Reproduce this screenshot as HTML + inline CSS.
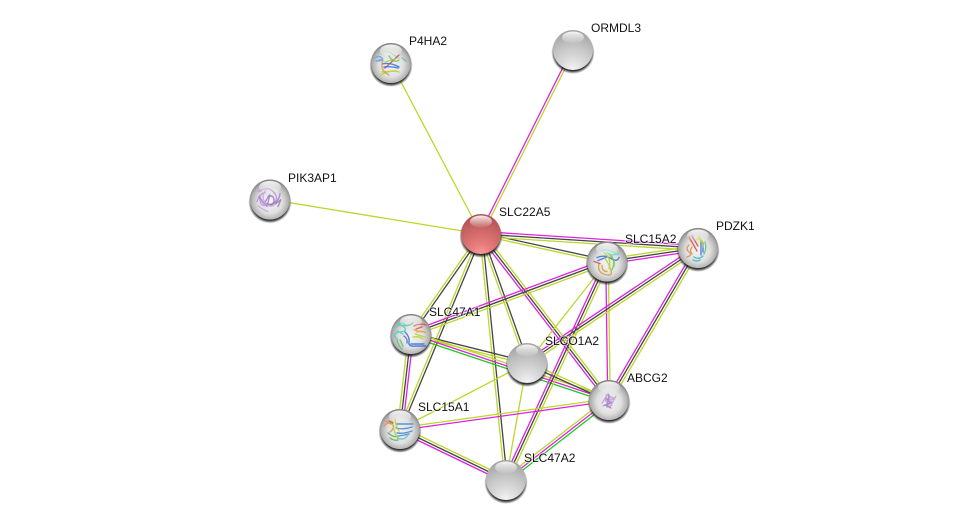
<!DOCTYPE html>
<html>
<head>
<meta charset="utf-8">
<style>
html,body{margin:0;padding:0;background:#fff;width:975px;height:525px;overflow:hidden}
svg{display:block}
text{font-family:"Liberation Sans",sans-serif;font-size:12px;fill:#111;stroke:rgba(255,255,255,.55);stroke-width:2px;paint-order:stroke;}
</style>
</head>
<body>
<svg id="s" xmlns="http://www.w3.org/2000/svg" width="975" height="525" viewBox="0 0 975 525">
<defs>
<radialGradient id="g" cx="50%" cy="55%" r="55%">
<stop offset="0" stop-color="#f4f4f4"/><stop offset=".55" stop-color="#e0e0e0"/><stop offset=".82" stop-color="#b4b4b4"/><stop offset="1" stop-color="#7c7c7c"/>
</radialGradient>
<radialGradient id="g2" cx="50%" cy="100%" r="105%">
<stop offset="0" stop-color="#f6f6f6"/><stop offset=".2" stop-color="#e2e2e2"/><stop offset=".6" stop-color="#c2c2c2"/><stop offset="1" stop-color="#9c9c9c"/>
</radialGradient>
<radialGradient id="r2" cx="50%" cy="100%" r="105%">
<stop offset="0" stop-color="#f79a9a"/><stop offset=".25" stop-color="#e87c7c"/><stop offset=".65" stop-color="#c86262"/><stop offset="1" stop-color="#a84c4c"/>
</radialGradient>
<linearGradient id="h" x1="0" y1="0" x2="0" y2="1">
<stop offset="0" stop-color="#fff" stop-opacity=".9"/><stop offset="1" stop-color="#fff" stop-opacity=".05"/>
</linearGradient>
<radialGradient id="sh" cx="50%" cy="50%" r="50%">
<stop offset=".86" stop-color="#111" stop-opacity=".85"/><stop offset="1" stop-color="#222" stop-opacity="0"/>
</radialGradient>
<filter id="b" x="-20%" y="-20%" width="140%" height="140%"><feGaussianBlur stdDeviation="0.35"/></filter>
</defs>
<g id="edges" fill="none" stroke-width="1.3"></g>
<g id="nodes"></g>
<g id="labels">
<text x="499" y="216">SLC22A5</text>
<text x="409" y="45">P4HA2</text>
<text x="591" y="32">ORMDL3</text>
<text x="288" y="182">PIK3AP1</text>
<text x="625" y="243">SLC15A2</text>
<text x="716" y="230">PDZK1</text>
<text x="429" y="316">SLC47A1</text>
<text x="545" y="345">SLCO1A2</text>
<text x="627" y="382">ABCG2</text>
<text x="418" y="411">SLC15A1</text>
<text x="524" y="462">SLC47A2</text>
</g>
</svg>
<script>
var N={hub:[481,234],p4:[391,63],or:[573,50],pi:[270,199.5],a2:[607,261.5],pd:[698,248],s1:[411,334],co:[527,363],ab:[609,400],c1:[400,429],s2:[506,480]};
var C={y:'#bdd62a',m:'#e020e0',k:'#444',g:'#1fc81f'};
var E=[['hub','p4','y'],['hub','or','my'],['hub','pi','y'],['hub','a2','ky'],['hub','pd','mky'],
['hub','s1','ky'],['hub','c1','ky'],['hub','s2','ky'],['hub','co','ky'],['hub','ab','ykm'],
['s1','a2','mky'],['s1','co','ky'],['s1','ab','ymg'],['s1','c1','mky'],
['a2','co','y'],['a2','ab','ym'],['a2','s2','ykm'],['a2','pd','ykm'],
['pd','co','ykm'],['pd','ab','ykm'],['co','ab','yk'],['co','s2','y'],['co','c1','y'],
['ab','c1','my'],['ab','s2','gmy'],['c1','s2','ykm']];
var ns='http://www.w3.org/2000/svg',eg=document.getElementById('edges'),ng=document.getElementById('nodes');
function el(t,a,p){var e=document.createElementNS(ns,t);for(var k in a)e.setAttribute(k,a[k]);p.appendChild(e);return e}
E.forEach(function(e){var A=N[e[0]],B=N[e[1]],dx=B[0]-A[0],dy=B[1]-A[1],L=Math.hypot(dx,dy),nx=-dy/L,ny=dx/L,c=e[2],n=c.length;
for(var i=0;i<n;i++){var o=(i-(n-1)/2)*2.5;
el('line',{x1:A[0]+nx*o,y1:A[1]+ny*o,x2:B[0]+nx*o,y2:B[1]+ny*o,stroke:C[c[i]]},eg)}});
var T={
p4:[['#9fd8b0','M-12 -10q6 -4 12 0t8 5'],['#6aa8e0','M-16 -5q4 -3 7 0t-6 3M-15 -2l6 -2'],['#c85050','M-6 5L8 -8'],['#3a70d8','M-9 1q8 -2 17 3M-7 4q7 -1 14 1'],['#b8d030','M-10 12q10 -6 18 -3M-6 -1l10 -3M-9 9l14 -1'],['#d8a050','M-8 -3q-4 10 6 15'],['#70c070','M-2 -7q5 8 10 4'],['#50c0c0','M11 -5l4 3']],
pi:[['#b890d8','M-11 -8q8 -6 14 0t2 10t-10 4t-5 -10M-13 2q3 -8 8 -9'],['#a878d0','M-8 2q6 6 12 2t6 -10M-11 -3l5 7l6 -9l-3 12'],['#c8a8e0','M-4 -10q-6 8 0 14t12 -2M-12 6q4 4 10 6'],['#9a80b0','M-2 -3q6 -2 6 4t-7 3M6 4l5 -4l-3 7']],
a2:[['#70d8c8','M-6 -11q8 -2 16 4M0 -9q6 4 12 1'],['#3a70d8','M-10 -4q8 -3 14 1t8 -1M-9 -1l8 -3'],['#b8d030','M-3 -9q8 6 5 16M2 -7q7 6 5 12M-2 -3q4 5 6 12'],['#d0a040','M-8 2q-2 9 6 11t6 -4M-5 4q0 6 5 6'],['#d05050','M-13 0l6 2'],['#70c080','M4 -6q5 6 1 14']],
pd:[['#d05040','M-9 -11l8 14M-6 -12l6 10'],['#d89050','M-9 -3q-4 4 0 7t-2 5M-6 -1q-3 4 0 7'],['#3a70d8','M3 -7v14M5 -5v9'],['#b8d030','M-1 -9q6 -2 6 8M1 -12l2 6'],['#40b8c0','M-4 9q5 3 9 -1M-5 12q4 2 7 0'],['#60c090','M7 -6q2 6 -1 12']],
s1:[['#50d0c0','M-15 -7q4 -4 8 0t-4 5t-4 6M-13 -10q4 -2 8 1M-14 -3l6 3'],['#3a70d8','M-6 -2q5 5 4 10t7 4h10M-7 2q4 3 3 7M0 10h13'],['#e05040','M3 -8q6 -3 12 -1M5 -5l6 -2'],['#e0a040','M6 -2q5 -2 9 1M3 -4l8 2'],['#b8d030','M2 3q6 -1 10 2M4 0l10 3'],['#60c080','M-14 5q1 7 5 10M-11 6l3 6'],['#40c090','M-8 -9q4 2 10 -2']],
ab:[['#c0a0d8','M-7 3l6 -9l4 9l4 -7l-6 11l-5 -7l8 -1M-4 -2l7 7M-6 6l10 -4M-3 -5l8 3'],['#a880c8','M-3 -2l5 5l-6 2l6 3M0 -5l-2 12']],
c1:[['#e09050','M-16 -3q4 -5 8 -2t-2 8M-14 -8l5 3'],['#50b060','M-12 4q6 5 10 3M-10 9q4 3 8 2'],['#3a88d8','M-4 -5h17M-4 -1q8 2 16 -1M-3 4q7 1 15 -2M-1 7l10 -2'],['#b8d030','M-8 -8q2 12 6 18M-5 -10q1 8 4 12'],['#70c0d0','M-2 9q6 3 10 -3'],['#d05050','M-11 -8l4 2']]
};
for(var k in N){var p=N[k],x=p[0],y=p[1],g=el('g',{transform:'translate('+x+' '+y+')'},ng),r=k=='hub';
el('ellipse',{cx:0,cy:2.5,rx:21.6,ry:21.4,fill:'url(#sh)'},g);
el('circle',{r:20,fill:'url(#'+(r?'r2':'g2')+')'},g);
if(!r&&T[k]){el('circle',{r:20,fill:'url(#g)'},g);
var tg=el('g',{filter:'url(#b)'},g);
T[k].forEach(function(t){el('path',{d:t[1],fill:'none',stroke:t[0],'stroke-width':1.4,'stroke-linecap':'round','stroke-opacity':.85},tg)});}
el('ellipse',{cx:0,cy:-12.5,rx:11,ry:6,fill:'url(#h)'},g);
}
</script>
</body>
</html>
